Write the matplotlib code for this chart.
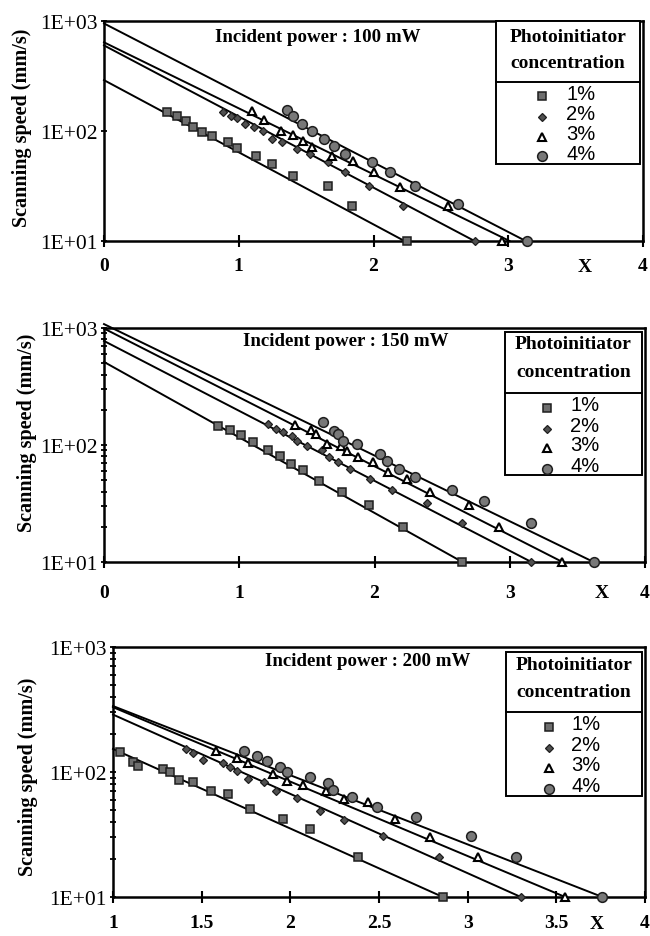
"""
Scanning speed vs X for three incident powers (log scale), recreated from a scanned figure.
"""
import numpy as np
import matplotlib
matplotlib.use('Agg')
import matplotlib.pyplot as plt
from matplotlib.patches import Rectangle
from matplotlib.ticker import LogLocator, NullFormatter, FixedLocator

plt.rcParams['font.family'] = ['Liberation Serif', 'DejaVu Serif']

W, H = 650, 937  # output size in pixels (dpi 100)

CONC = ['1%', '2%', '3%', '4%']
POWERS = ['100 mW', '150 mW', '200 mW']

# ---- 100 mW ----
X_100 = [
    [0.47, 0.54, 0.61, 0.66, 0.73, 0.80, 0.92, 0.99, 1.13, 1.25, 1.40, 1.66, 1.84, 2.25],
    [0.88, 0.94, 0.99, 1.05, 1.11, 1.18, 1.25, 1.32, 1.43, 1.53, 1.66, 1.79, 1.97, 2.22, 2.75],
    [1.10, 1.19, 1.31, 1.40, 1.48, 1.54, 1.69, 1.85, 2.00, 2.20, 2.55, 2.95],
    [1.36, 1.40, 1.47, 1.54, 1.63, 1.71, 1.79, 1.99, 2.12, 2.31, 2.63, 3.14],
]
Y_100 = [
    [149, 137, 123, 109, 98, 90, 79, 70, 59, 50, 39, 31.6, 20.8, 10],
    [149, 137, 131, 116, 109, 100, 85, 79, 69, 62, 52, 42, 31.6, 21, 10],
    [151, 126, 100, 92, 81, 72, 59, 53, 42, 31, 21, 10],
    [155, 137, 116, 100, 85, 73, 62, 52, 42, 31.6, 21.7, 10],
]
LINE_Y0_100 = [290, 600, 640, 950]        # fitted line value at left edge
LINE_XEND_100 = [2.23, 2.75, 3.01, 3.13]  # x where fitted line reaches 10

# ---- 150 mW ----
X_150 = [
    [0.84, 0.93, 1.01, 1.10, 1.21, 1.30, 1.38, 1.47, 1.59, 1.76, 1.96, 2.21, 2.65],
    [1.21, 1.27, 1.32, 1.39, 1.43, 1.50, 1.61, 1.66, 1.73, 1.82, 1.97, 2.13, 2.39, 2.65, 3.16],
    [1.41, 1.53, 1.57, 1.65, 1.75, 1.80, 1.88, 1.99, 2.10, 2.24, 2.41, 2.70, 2.92, 3.39],
    [1.62, 1.70, 1.73, 1.77, 1.87, 2.04, 2.09, 2.18, 2.30, 2.57, 2.81, 3.16, 3.62],
]
Y_150 = [
    [145, 134, 122, 106, 91, 80, 69, 61, 49, 40, 31, 20, 10],
    [151, 137, 129, 119, 108, 98, 91, 79, 72, 62, 51, 41, 32, 21.5, 10],
    [148, 134, 124, 102, 98, 89, 79, 72, 59, 51, 40, 31, 20, 10],
    [157, 132, 124, 108, 102, 84, 73, 62, 53, 41, 33, 21.5, 10],
]
LINE_Y0_150 = [513, 775, 990, 1080]
LINE_XEND_150 = [2.65, 3.16, 3.39, 3.62]

# ---- 200 mW ----
X_200 = [
    [1.04, 1.11, 1.14, 1.28, 1.32, 1.37, 1.45, 1.55, 1.65, 1.77, 1.96, 2.11, 2.38, 2.86],
    [1.41, 1.45, 1.51, 1.62, 1.66, 1.70, 1.76, 1.85, 1.92, 2.04, 2.17, 2.30, 2.52, 2.84, 3.30],
    [1.58, 1.70, 1.76, 1.90, 1.98, 2.07, 2.20, 2.30, 2.44, 2.59, 2.79, 3.06, 3.55],
    [1.74, 1.81, 1.87, 1.94, 1.98, 2.11, 2.21, 2.24, 2.35, 2.49, 2.71, 3.02, 3.27, 3.76],
]
Y_200 = [
    [145, 120, 112, 106, 100, 86, 83, 70, 67, 51, 42, 35, 21, 10],
    [153, 142, 125, 118, 110, 102, 88, 83, 70, 62, 49, 41, 31, 21, 10],
    [147, 129, 118, 96, 85, 79, 70, 61, 58, 42, 30, 21, 10],
    [147, 134, 122, 110, 100, 91, 82, 72, 63, 52, 44, 31, 21, 10],
]
LINE_Y0_200 = [153, 288, 330, 337]
LINE_XEND_200 = [2.86, 3.30, 3.55, 3.76]

XTICKS_100 = [0, 1, 2, 3, 4]
XTICKS_200 = [1, 1.5, 2, 2.5, 3, 3.5, 4]

MARKERS = [
    dict(marker='s', ms=6.3, mfc='#6e6e6e', mec='#1e1e1e', mew=1.1),
    dict(marker='D', ms=4.4, mfc='#505050', mec='#1e1e1e', mew=0.9),
    dict(marker='^', ms=5.8, mfc='white', mec='black', mew=1.5),
    dict(marker='o', ms=7.0, mfc='#787878', mec='#1e1e1e', mew=1.1),
]

# layout (pixels of the 650x937 image): axes box, title, legend box, y label
PANELS = [
    dict(box=(104, 22, 643, 242), xlim=(0, 4), title=(318, 37), x_lab=(585, 268), lab_pad=7,
         y_lab=(22, 128),
         leg=(496, 22, 640, 165), leg_div=83, leg_hdr=(37, 63), leg_rows=(94, 115, 135, 154),
         leg_mx=542, leg_tx=581, minor=False),
    dict(box=(104, 329, 645, 563), xlim=(0, 4), title=(346, 341), x_lab=(602, 593), lab_pad=11,
         y_lab=(27, 433),
         leg=(505, 333, 642, 476), leg_div=394, leg_hdr=(345, 373), leg_rows=(406, 427, 446, 467),
         leg_mx=547, leg_tx=585, minor=True),
    dict(box=(113, 648, 645, 898), xlim=(1, 4), title=(368, 662), x_lab=(597, 925), lab_pad=8,
         y_lab=(28, 777),
         leg=(506, 653, 642, 797), leg_div=713, leg_hdr=(665, 693), leg_rows=(725, 746, 766, 787),
         leg_mx=549, leg_tx=586, minor=True),
]


def fx(px):
    return px / W


def fy(py):
    return 1 - py / H


def draw_panel(fig, lay, xs, ys, line_y0, line_xend, xticks, power):
    l, t, r, b = lay['box']
    ax = fig.add_axes([fx(l), fy(b), (r - l) / W, (b - t) / H])
    ax.set_yscale('log')
    ax.set_xlim(*lay['xlim'])
    ax.set_ylim(10, 1000)

    x0 = lay['xlim'][0]
    for i in range(4):
        ax.plot([x0, line_xend[i]], [line_y0[i], 10], color='black', lw=1.4,
                clip_on=False, zorder=2)
        ax.plot(xs[i], ys[i], ls='none', zorder=3, clip_on=False, **MARKERS[i])

    ax.set_yticks([10, 100, 1000])
    ax.set_yticklabels(['1E+01', '1E+02', '1E+03'], fontsize=15.5)
    if lay['minor']:
        ax.yaxis.set_minor_locator(LogLocator(base=10, subs=np.arange(2, 10)))
        ax.tick_params(axis='y', which='minor', direction='inout', length=4, width=1.3)
    else:
        ax.yaxis.set_minor_locator(FixedLocator([]))
    ax.yaxis.set_minor_formatter(NullFormatter())
    ax.tick_params(axis='y', which='major', direction='inout', length=5, width=1.3, pad=2)

    ax.set_xticks(xticks)
    ax.set_xticklabels([f'{v:g}' for v in xticks], fontsize=14, fontweight='bold')
    ax.tick_params(axis='x', direction='inout', length=9, width=1.5, pad=lay['lab_pad'])

    for sp in ax.spines.values():
        sp.set_linewidth(1.8)

    fig.text(fx(lay['y_lab'][0]), fy(lay['y_lab'][1]), 'Scanning speed (mm/s)', rotation=90,
             ha='center', va='center', fontsize=14.5, fontweight='bold')
    fig.text(fx(lay['title'][0]), fy(lay['title'][1]), f'Incident power : {power}',
             ha='center', va='center', fontsize=13.6, fontweight='bold')
    fig.text(fx(lay['x_lab'][0]), fy(lay['x_lab'][1]), 'X',
             ha='center', va='center', fontsize=14, fontweight='bold')

    # legend drawn as a box like the original
    ll, lt, lr, lb = lay['leg']
    fig.add_artist(Rectangle((fx(ll), fy(lb)), (lr - ll) / W, (lb - lt) / H,
                             transform=fig.transFigure, fill=True, fc='white',
                             ec='black', lw=1.4, zorder=5))
    fig.add_artist(plt.Line2D([fx(ll), fx(lr)], [fy(lay['leg_div'])] * 2,
                              transform=fig.transFigure, color='black', lw=1.4, zorder=6))
    cx = (ll + lr) / 2
    for txt, py in zip(['Photoinitiator', 'concentration'], lay['leg_hdr']):
        fig.text(fx(cx), fy(py), txt, ha='center', va='center', fontsize=14,
                 fontweight='bold', zorder=7)
    for i, py in enumerate(lay['leg_rows']):
        fig.add_artist(plt.Line2D([fx(lay['leg_mx'])], [fy(py + 3)], ls='none',
                                  transform=fig.transFigure, zorder=7, **MARKERS[i]))
        fig.text(fx(lay['leg_tx']), fy(py), CONC[i], ha='center', va='center',
                 fontsize=14.5, family=['Liberation Sans', 'DejaVu Sans'], zorder=7)
    return ax


if __name__ == '__main__':
    fig = plt.figure(figsize=(W / 100, H / 100), dpi=100)
    fig.patch.set_facecolor('white')

    draw_panel(fig, PANELS[0], X_100, Y_100, LINE_Y0_100, LINE_XEND_100, XTICKS_100, POWERS[0])
    draw_panel(fig, PANELS[1], X_150, Y_150, LINE_Y0_150, LINE_XEND_150, XTICKS_100, POWERS[1])
    draw_panel(fig, PANELS[2], X_200, Y_200, LINE_Y0_200, LINE_XEND_200, XTICKS_200, POWERS[2])

    fig.savefig('out.png', dpi=100, facecolor='white')
